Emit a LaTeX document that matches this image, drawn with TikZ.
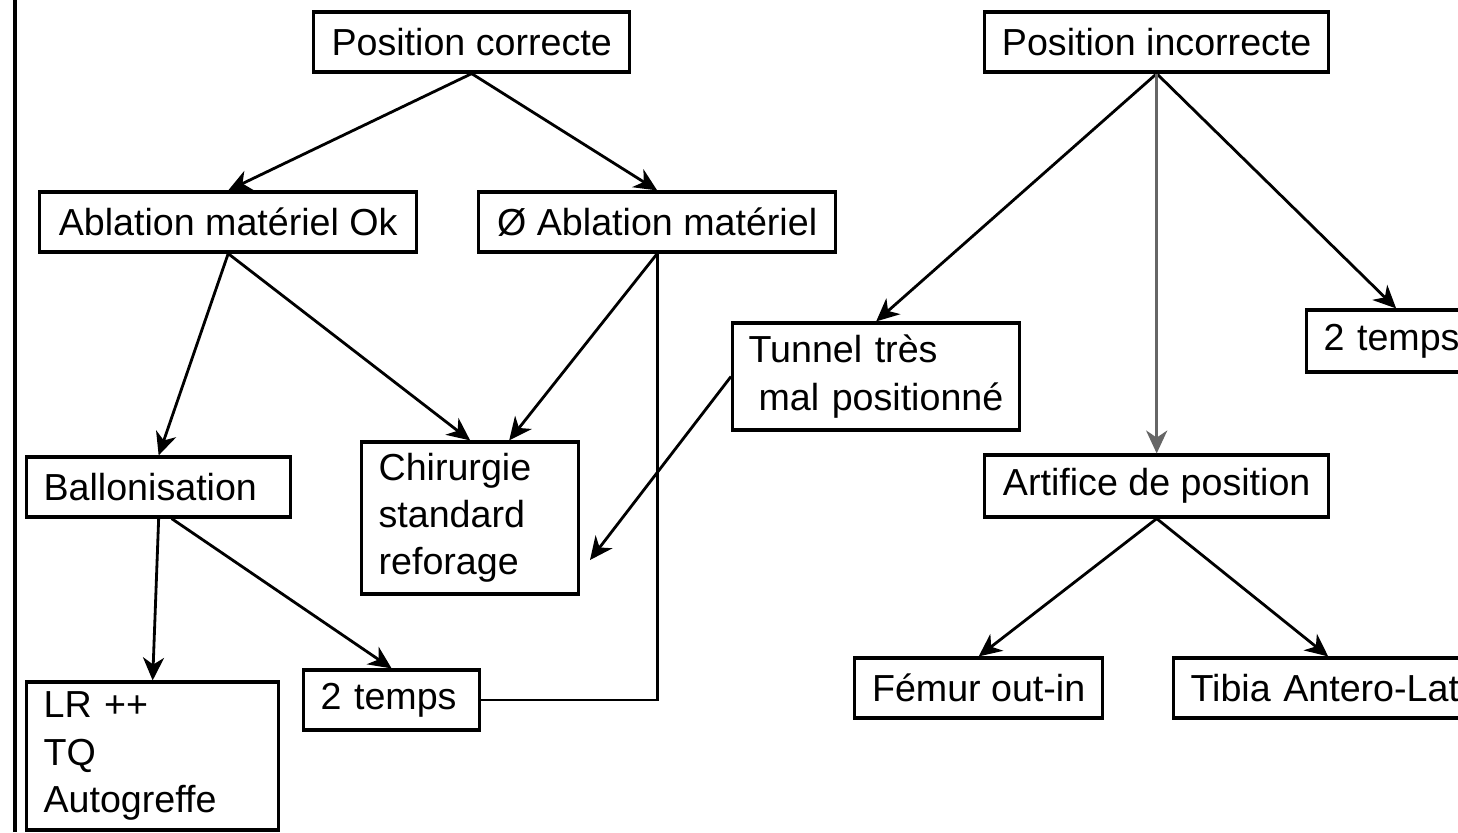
\documentclass[tikz,border=0pt]{standalone}
\usepackage{fontspec}
\setmainfont{Liberation Sans}
\usetikzlibrary{arrows.meta}

\tikzset{
  etape/.style={draw, line width=0.9pt, anchor=west, inner xsep=0.17cm, inner ysep=0pt,
    minimum height=0.6cm, font=\fontsize{10.7}{13.4}\selectfont},
  fleche/.style={line width=0.8pt, -{Stealth[length=6.5pt,width=6pt,inset=2pt]}},
}

\begin{document}
\begin{tikzpicture}[x=0.01cm,y=-0.01cm]

    \useasboundingbox (0,0) rectangle (1458,832);
    \clip (0,0) rectangle (1458,832);

    \draw[line width=1.1pt] (15,0) -- (15,832);

    % position correcte
    \node[etape, minimum width=3.16cm] (correcte) at (312,42) {Position correcte};
    \node[etape, minimum width=3.77cm] (ablok) at (38,222) {Ablation matériel Ok};
    \node[etape, minimum width=3.57cm] (ablno) at (477,222) {Ø Ablation matériel};
    \node[etape, text width=2.30cm, align=left] (ballon) at (25,487) {Ballonisation};
    \node[etape, text width=1.83cm, align=left, minimum height=1.52cm] (chir) at (360,518) {Chirurgie\\standard\\reforage};
    \node[etape, text width=2.18cm, align=left, minimum height=1.48cm] (lr) at (25,756) {LR ++\\TQ\\Autogreffe};
    \node[etape, text width=1.42cm, align=left] (deuxtG) at (302,700) {2 temps};

    % position incorrecte
    \node[etape, minimum width=3.44cm] (incorrecte) at (983,42) {Position incorrecte};
    \node[etape, text width=2.55cm, align=left, inner xsep=0.16cm, minimum height=1.07cm] (tunnel) at (731,376.5) {Tunnel très\\\hspace*{0.1cm}mal positionné};
    \node[etape, text width=1.45cm, align=left, minimum height=0.62cm] (deuxtD) at (1305,341) {2 temps};
    \node[etape, minimum width=3.44cm, minimum height=0.62cm] (artifice) at (983,486) {Artifice de position};
    \node[etape, minimum width=2.48cm] (femur) at (853,688) {Fémur out-in};
    \node[etape, text width=2.75cm, align=left] (tibia) at (1172,688) {Tibia Antero-Lat};

    \coordinate (chirR) at (590,560);

    \foreach \a/\b in {correcte/ablok, correcte/ablno, ablok/ballon, ablok/chir, ballon/lr,
                       incorrecte/tunnel, incorrecte/deuxtD, artifice/femur, artifice/tibia}{
        \draw[fleche] (\a.south) -- (\b.north);
    }
    \draw[fleche] (ablno.south) -- ([xshift=0.39cm]chir.north);
    \draw[fleche] ([xshift=0.13cm]ballon.south) -- (deuxtG.north);
    \draw[fleche, black!60] (incorrecte.south) -- (artifice.north);
    \draw[fleche] (tunnel.west) -- (chirR);
    \draw[line width=0.8pt] (ablno.south) |- (deuxtG.east);

\end{tikzpicture}
\end{document}
